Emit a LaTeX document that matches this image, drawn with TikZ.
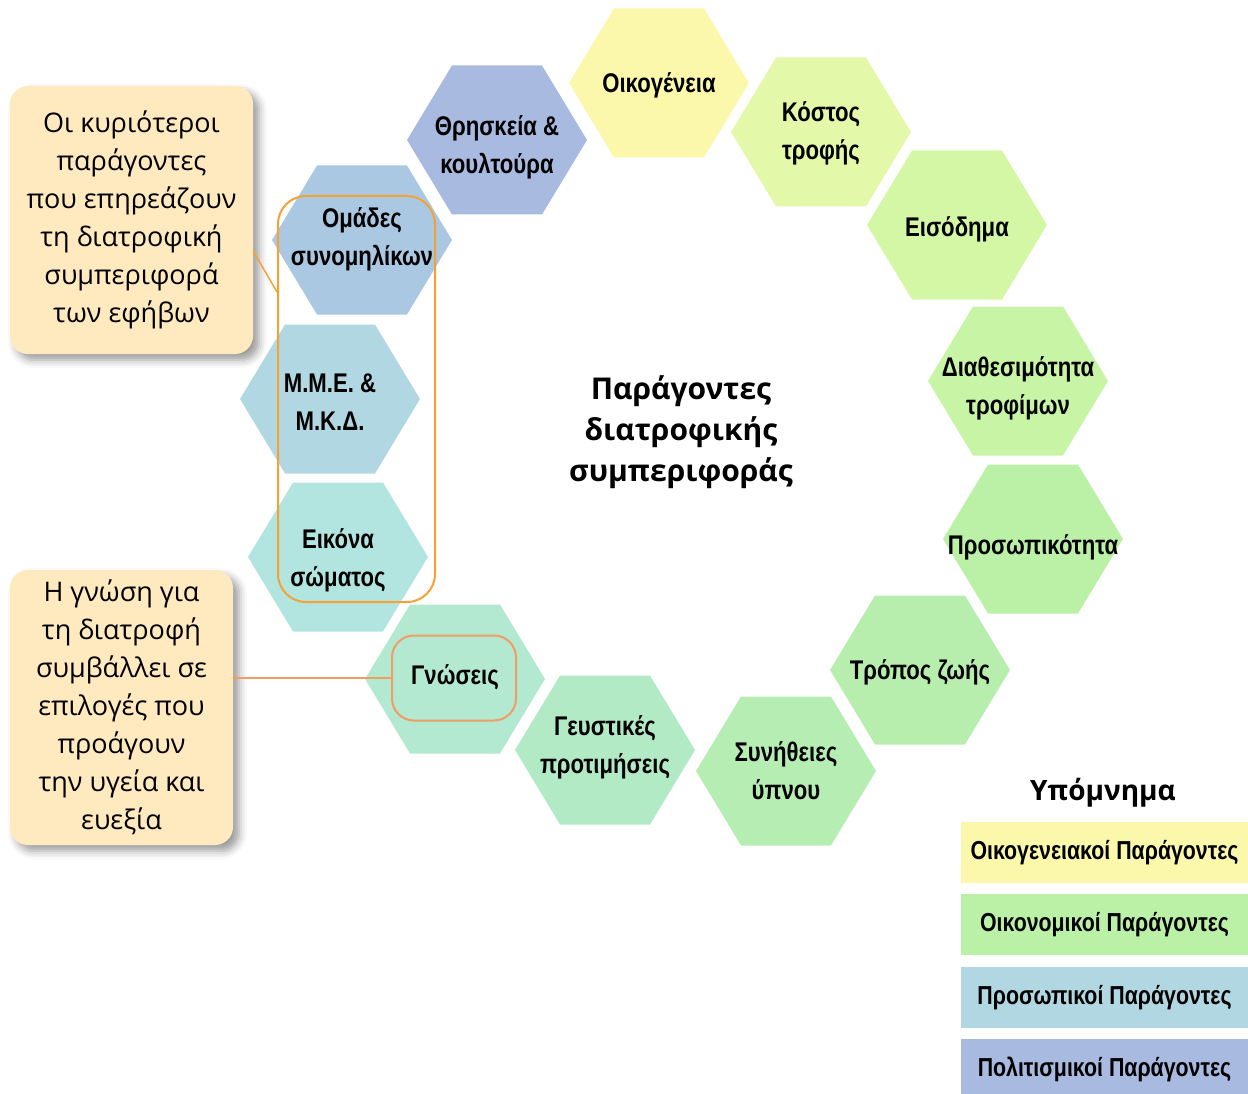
\documentclass[tikz,border=0pt]{standalone}
\usepackage{fontspec}
\setmainfont{Liberation Sans}
\newfontfamily\hexfont[FakeStretch=0.82]{Liberation Sans}
\newfontfamily\notefont{Open Sans}
\usepackage{tikz}
\usetikzlibrary{positioning,calc,shadows.blur}

\definecolor{famyellow}{HTML}{FBF8AB}
\definecolor{costgreen}{HTML}{E4F8A9}
\definecolor{incgreen}{HTML}{D4F7A5}
\definecolor{availgreen}{HTML}{C7F4A5}
\definecolor{persgreen}{HTML}{BBF1A7}
\definecolor{lifegreen}{HTML}{B7EEAE}
\definecolor{sleepgreen}{HTML}{B5EDB2}
\definecolor{tastemint}{HTML}{B3EAC6}
\definecolor{knowmint}{HTML}{B3E8D1}
\definecolor{bodycyan}{HTML}{B3E5E0}
\definecolor{mediablue}{HTML}{B1D8E2}
\definecolor{peerblue}{HTML}{AAC8E2}
\definecolor{religblue}{HTML}{A8BAE0}
\definecolor{notepeach}{HTML}{FFE9BF}
\definecolor{grporange}{HTML}{F6A134}
\definecolor{knowsalmon}{HTML}{F29C66}

\tikzset{
  % #1 fill, #2 how far the text sits below the middle of the hexagon
  hexa/.style 2 args={minimum width=182pt, minimum height=180pt, inner sep=0pt,
    align=center, font=\hexfont\bfseries\fontsize{27}{38}\selectfont,
    path picture={\fill[#1] ([yshift=#2 pt]path picture bounding box.center)
      ++(-90pt,0pt) -- ++(45pt,74.5pt) -- ++(90pt,0pt) -- ++(45pt,-74.5pt)
      -- ++(-45pt,-74.5pt) -- ++(-90pt,0pt) -- cycle;}},
  notebox/.style={fill=notepeach, rounded corners=18pt, inner sep=0pt, align=center,
    blur shadow={shadow xshift=6pt, shadow yshift=-6pt, shadow blur radius=8pt},
    font=\notefont\fontsize{27}{38}\selectfont},
  legbox/.style={fill=#1, minimum width=287pt, minimum height=61pt, inner sep=0pt,
    font=\hexfont\bfseries\fontsize{26}{30}\selectfont}
}

\begin{document}
\begin{tikzpicture}[x=1pt, y=-1pt]
  \useasboundingbox (0,0) rectangle (1248,1094);

  % hexagons round the centre
  \node[hexa={famyellow}{2}]  (fam)   at (659,85)  {Οικογένεια};
  \node[hexa={costgreen}{1}]  (cost)  at (821,133) {Κόστος\\τροφής};
  \node[hexa={incgreen}{4}]   (inc)   at (957,229) {Εισόδημα};
  \node[hexa={availgreen}{7}] (avail) at (1018,388) {Διαθεσιμότητα\\τροφίμων};
  \node[hexa={persgreen}{8}]  (pers)  at (1033,547) {Προσωπικότητα};
  \node[hexa={lifegreen}{2}]  (life)  at (920,672) {Τρόπος ζωής};
  \node[hexa={sleepgreen}{0}] (sleep) at (786,771) {Συνήθειες\\ύπνου};
  \node[hexa={tastemint}{-3}] (taste) at (605,747) {Γευστικές\\προτιμήσεις};
  \node[hexa={knowmint}{-2}]  (know)  at (455,677) {Γνώσεις};
  \node[hexa={bodycyan}{3}]   (body)  at (338,560) {Εικόνα\\σώματος};
  \node[hexa={mediablue}{3}]  (media) at (330,402) {Μ.Μ.Ε. \&\\Μ.Κ.Δ.};
  \node[hexa={peerblue}{-1}]  (peers) at (362,239) {Ομάδες\\συνομηλίκων};
  \node[hexa={religblue}{7}]  (relig) at (497,147) {Θρησκεία \&\\κουλτούρα};

  \node[font=\notefont\bfseries\fontsize{30}{41}\selectfont, align=center]
    (title) at (681,432) {Παράγοντες\\διατροφικής\\συμπεριφοράς};

  % callouts
  \node[notebox, minimum width=243pt, minimum height=268pt] (note1) at (131.5,220)
    {Οι κυριότεροι\\παράγοντες\\που επηρεάζουν\\τη διατροφική\\συμπεριφορά\\των εφήβων};
  \node[notebox, minimum width=223pt, minimum height=275pt] (note2) at (121.5,707.5)
    {Η γνώση για\\τη διατροφή\\συμβάλλει σε\\επιλογές που\\προάγουν\\την υγεία και\\ευεξία};

  \node[draw=grporange, line width=2pt, rounded corners=28pt,
    minimum width=157pt, minimum height=406pt] (grpbox) at (356.5,399) {};
  \node[draw=knowsalmon, line width=2pt, rounded corners=22pt,
    minimum width=124pt, minimum height=85pt] (knowbox) at (454,678) {};

  \draw[grporange, line width=1.5pt] ([yshift=-31pt]note1.east) -- ([yshift=107pt]grpbox.west);
  \draw[knowsalmon, line width=1.5pt] (knowbox.west) -- (knowbox.west -| note2.east);

  % legend
  \node[font=\notefont\bfseries\fontsize{28}{30}\selectfont] (legtitle) at (1103,793) {Υπόμνημα};
  \node[legbox=famyellow] (leg1) at (1104.5,852.5) {Οικογενειακοί Παράγοντες};
  \node[legbox=persgreen, below=11pt of leg1] (leg2) {Οικονομικοί Παράγοντες};
  \node[legbox=mediablue, below=11pt of leg2] (leg3) {Προσωπικοί Παράγοντες};
  \node[legbox=religblue, below=11pt of leg3] (leg4) {Πολιτισμικοί Παράγοντες};
\end{tikzpicture}
\end{document}
